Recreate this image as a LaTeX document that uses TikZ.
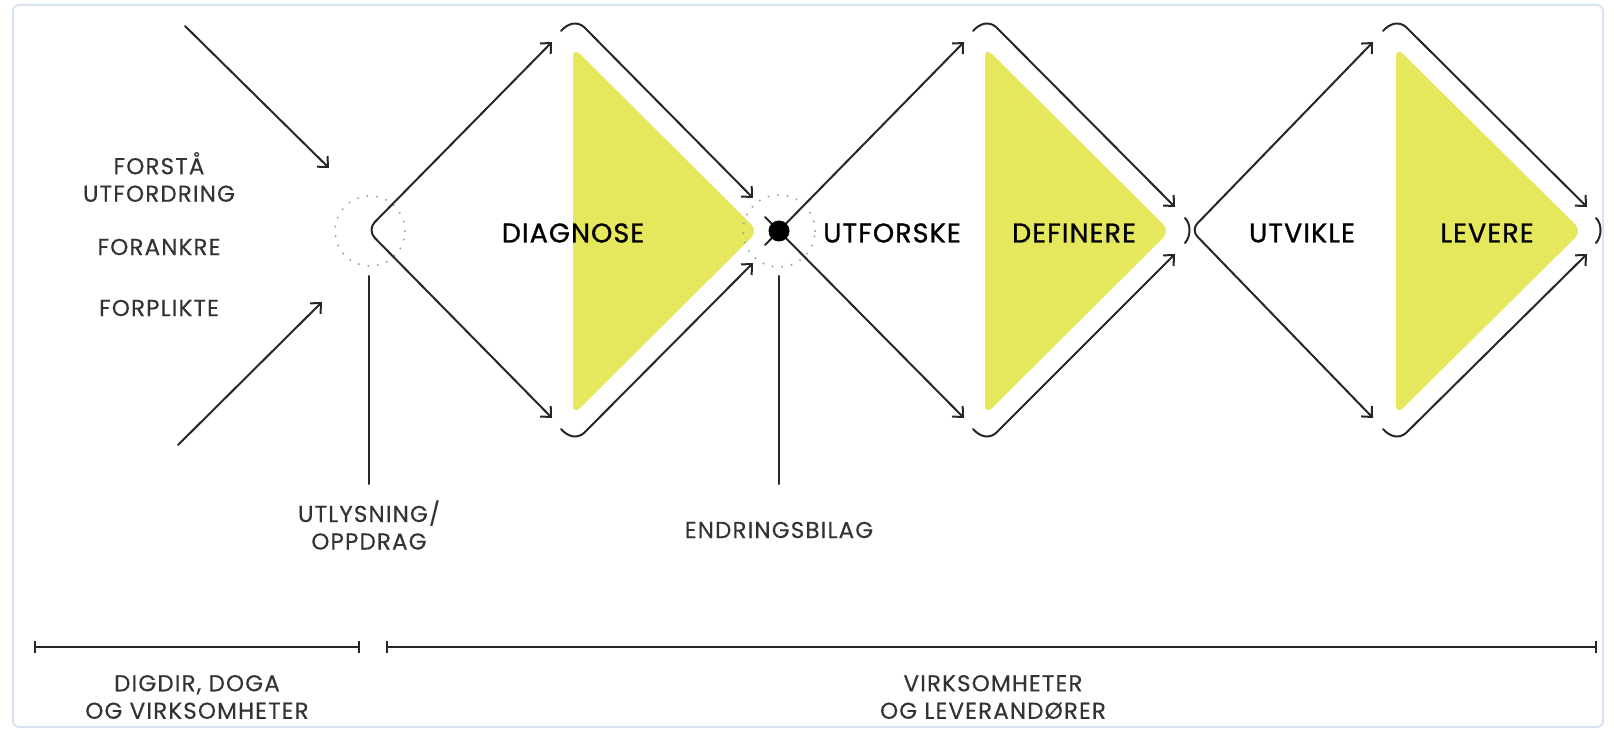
\documentclass[tikz,border=0pt]{standalone}
\usepackage{fontspec}
\setmainfont{Poppins}
\newfontfamily\smallfnt{Poppins}[LetterSpace=5,FakeBold=0.3]
\newfontfamily\bigfnt{Poppins}[LetterSpace=4,FakeBold=1]
\usetikzlibrary{arrows.meta}
\definecolor{ylw}{HTML}{E5E85C}
\definecolor{frm}{HTML}{D8E4F0}
\tikzset{
  ln/.style={line width=2pt, draw=black!85, line cap=round},
  arr/.style={ln, -{Straight Barb[length=8pt,width=15pt]}},
  arrboth/.style={ln, {Straight Barb[length=8pt,width=15pt]}-{Straight Barb[length=8pt,width=15pt]}},
  dotring/.style={draw=gray!75, line width=2.2pt, dash pattern=on 0pt off 9.6pt, line cap=round},
  small/.style={font=\smallfnt\fontsize{23}{27.5}\selectfont, align=center, text=black!80, inner sep=0pt},
  big/.style={font=\bigfnt\fontsize{27}{30}\selectfont, text=black, inner sep=0pt},
  bar/.style={line width=2pt, draw=black!85},
  half/.style={fill=ylw, rounded corners=10pt},
}
\begin{document}
\begin{tikzpicture}[x=1pt,y=-1pt]
\useasboundingbox (0,0) rectangle (1614,730);
\draw[frm, line width=2pt, rounded corners=6pt] (13,5) rectangle (1603,727);

% yellow halves
\fill[half] (573,47) -- (758,231) -- (573,415) -- cycle;
\fill[half] (985,47) -- (1170,231) -- (985,415) -- cycle;
\fill[half] (1396,47) -- (1582,231) -- (1396,415) -- cycle;

% dotted rings
\node[dotring, circle, minimum size=70pt, inner sep=0pt] (ring1) at (370,231) {};
\node[dotring, circle, minimum size=72pt, inner sep=0pt] (ring2) at (779,231) {};

% named points
\coordinate (v1) at (367,230);
\coordinate (tu1) at (552,42);  \coordinate (td1) at (552,418);
\coordinate (v2) at (779,231);
\coordinate (s2a) at (765,245); \coordinate (s2b) at (765,217);
\coordinate (tu2) at (964,42);  \coordinate (td2) at (964,418);
\coordinate (v3) at (1191,230);
\coordinate (tu3) at (1373,42); \coordinate (td3) at (1373,418);

% diamond 1 left side
\draw[arrboth, rounded corners=11pt] (tu1) -- (v1) -- (td1);
% diamond 2 left side (crossing)
\draw[arr] (s2a) -- (tu2);
\draw[arr] (s2b) -- (td2);
\fill[black] (v2) circle (10.5pt);
% diamond 3 left side
\draw[arrboth, rounded corners=9pt] (tu3) -- (v3) -- (td3);
\draw[ln] (1185,218) .. controls (1191,224) and (1191,236) .. (1185,243);
\draw[ln] (1596,218) .. controls (1602,224) and (1602,236) .. (1596,243);

% right brackets
\coordinate (bt1) at (561,31);  \coordinate (ee1) at (753,198);
\coordinate (bb1) at (561,429); \coordinate (ef1) at (753,263);
\draw[arr] (bt1) .. controls (568,23) and (577,21) .. (584,27) -- (ee1);
\draw[arr] (bb1) .. controls (568,437) and (577,439) .. (584,433) -- (ef1);
\coordinate (bt2) at (973,31);  \coordinate (ee2) at (1175,207);
\coordinate (bb2) at (973,429); \coordinate (ef2) at (1175,254);
\draw[arr] (bt2) .. controls (980,23) and (989,21) .. (996,27) -- (ee2);
\draw[arr] (bb2) .. controls (980,437) and (989,439) .. (996,433) -- (ef2);
\coordinate (bt3) at (1383,31);  \coordinate (ee3) at (1587,207);
\coordinate (bb3) at (1383,429); \coordinate (ef3) at (1587,254);
\draw[arr] (bt3) .. controls (1390,23) and (1399,21) .. (1406,27) -- (ee3);
\draw[arr] (bb3) .. controls (1390,437) and (1399,439) .. (1406,433) -- (ef3);

% labels in diamonds
\node[big] (diag) at (573,233) {DIAGNOSE};
\node[big] (utfo) at (892,233) {UTFORSKE};
\node[big] (defi) at (1074,233) {DEFINERE};
\node[big] (utvi) at (1302,233) {UTVIKLE};
\node[big] (leve) at (1487,233) {LEVERE};

% left side
\node[small] (forsta) at (159,177) {FORSTÅ\\UTFORDRING};
\node[small] (forank) at (159,247) {FORANKRE};
\node[small] (forpl) at (159,308) {FORPLIKTE};
\coordinate (la1) at (185,26);  \coordinate (la1e) at (329,168);
\coordinate (la2) at (178,445); \coordinate (la2e) at (322,302);
\draw[arr] (la1) -- (la1e);
\draw[arr] (la2) -- (la2e);

% pointer lines
\coordinate (p1a) at (369,276); \coordinate (p1b) at (369,484);
\coordinate (p2a) at (779,276); \coordinate (p2b) at (779,484);
\draw[ln] (p1a) -- (p1b);
\draw[ln] (p2a) -- (p2b);
\node[small] (utly) at (369,525) {UTLYSNING/\\OPPDRAG};
\node[small] (endr) at (779,530) {ENDRINGSBILAG};

% bottom bars
\coordinate (b1a) at (35,647);  \coordinate (b1b) at (359,647);
\coordinate (b2a) at (387,647); \coordinate (b2b) at (1596,647);
\draw[bar] (b1a) -- (b1b);
\draw[bar] (b2a) -- (b2b);
\foreach \p in {b1a,b1b,b2a,b2b} \draw[bar] ([yshift=-6pt]\p) -- ([yshift=6pt]\p);
\node[small] (digdir) at (197,697) {DIGDIR, DOGA\\OG VIRKSOMHETER};
\node[small] (virk) at (993,697) {VIRKSOMHETER\\OG LEVERANDØRER};
\end{tikzpicture}
\end{document}
